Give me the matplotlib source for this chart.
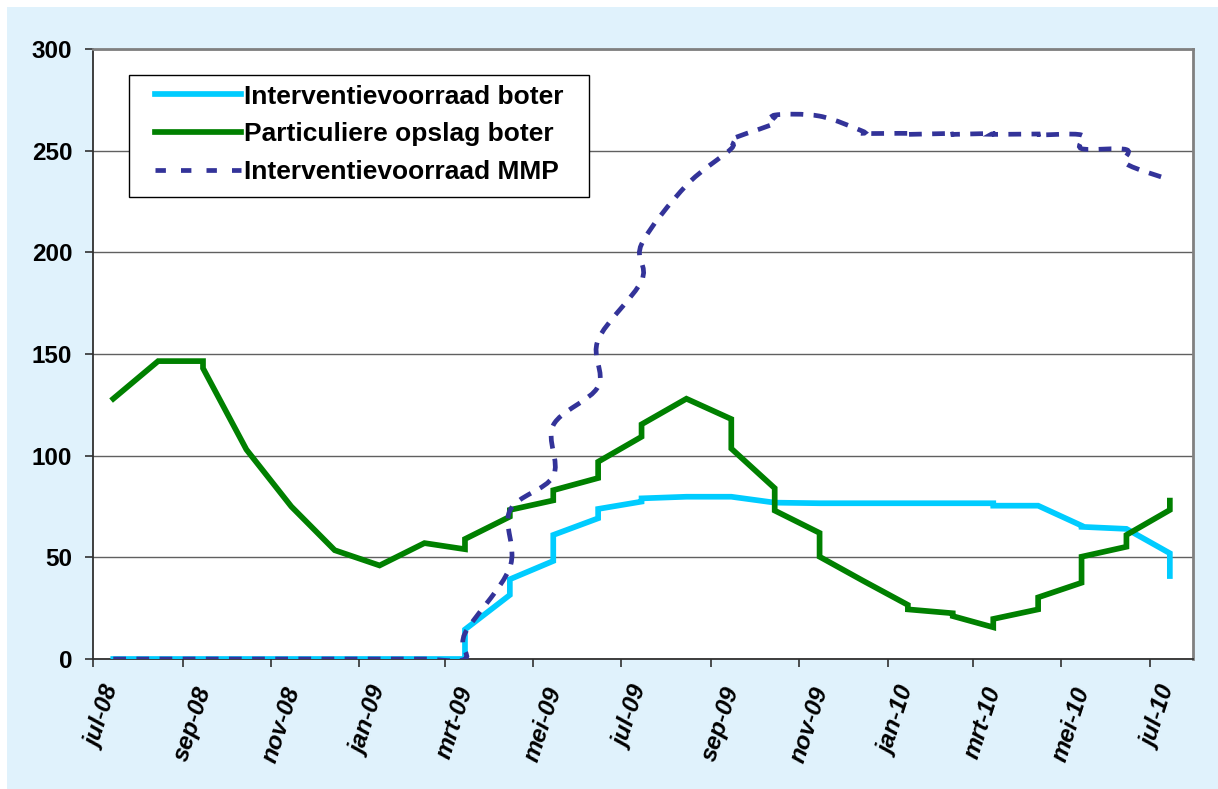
import matplotlib
matplotlib.use("Agg")
import matplotlib.pyplot as plt
import matplotlib.dates as mdates
import matplotlib.transforms as mtransforms
from matplotlib.path import Path
from matplotlib.patches import PathPatch, Rectangle
from matplotlib.lines import Line2D
import numpy as np
import pandas as pd

plt.rcParams['font.family'] = ['Liberation Sans', 'DejaVu Sans']

# ---------------- data ----------------
series_names = ["Interventievoorraad boter", "Particuliere opslag boter", "Interventievoorraad MMP"]

tick_dates = ["2008-07-01", "2008-09-01", "2008-11-01", "2009-01-01", "2009-03-01", "2009-05-01",
              "2009-07-01", "2009-09-01", "2009-11-01", "2010-01-01", "2010-03-01", "2010-05-01",
              "2010-07-01"]
tick_labels = ["jul-08", "sep-08", "nov-08", "jan-09", "mrt-09", "mei-09", "jul-09", "sep-09",
               "nov-09", "jan-10", "mrt-10", "mei-10", "jul-10"]

# Interventievoorraad boter
boter_dates = ["2008-07-15", "2008-08-15", "2008-09-15", "2008-10-15", "2008-11-15", "2008-12-15",
               "2009-01-15", "2009-02-15", "2009-03-15", "2009-03-15", "2009-04-15", "2009-04-15",
               "2009-05-15", "2009-05-15", "2009-06-15", "2009-06-15", "2009-07-15", "2009-07-15",
               "2009-08-15", "2009-09-15", "2009-10-15", "2009-11-15", "2009-12-15", "2010-01-15",
               "2010-02-15", "2010-03-15", "2010-03-15", "2010-04-15", "2010-05-15", "2010-05-15",
               "2010-06-15", "2010-07-15", "2010-07-15"]
boter_values = [0, 0, 0, 0, 0, 0,
                0, 0, 0, 14.5, 31.5, 39.2,
                48.2, 61, 69.2, 73.8, 77.4, 79,
                79.8, 79.8, 76.9, 76.6, 76.6, 76.6,
                76.6, 76.6, 75.4, 75.4, 65.6, 65.0,
                64.0, 52.0, 40.8]

# Particuliere opslag boter
opslag_dates = ["2008-07-15", "2008-08-15", "2008-09-15", "2008-09-15", "2008-10-15", "2008-11-15",
                "2008-12-15", "2009-01-15", "2009-02-15", "2009-03-15", "2009-03-15", "2009-04-15",
                "2009-04-15", "2009-05-15", "2009-05-15", "2009-06-15", "2009-06-15", "2009-07-15",
                "2009-07-15", "2009-08-15", "2009-09-15", "2009-09-15", "2009-10-15", "2009-10-15",
                "2009-11-15", "2009-11-15", "2009-12-15", "2010-01-15", "2010-01-15", "2010-02-15",
                "2010-02-15", "2010-03-15", "2010-03-15", "2010-04-15", "2010-04-15", "2010-05-15",
                "2010-05-15", "2010-06-15", "2010-06-15", "2010-07-15", "2010-07-15"]
opslag_values = [128, 146.5, 146.5, 143, 103, 75,
                 53.5, 46, 57, 54, 59, 70,
                 73.3, 78, 83, 89, 97, 109.3,
                 115.4, 128, 118, 103.5, 84, 73,
                 62, 50.3, 38.5, 26.6, 24.4, 22.5,
                 21.1, 15.6, 19.7, 24.4, 30.3, 37.5,
                 50.3, 55.2, 61, 73.3, 77.9]

# Interventievoorraad MMP
mmp_dates = ["2008-07-15", "2008-08-15", "2008-09-15", "2008-10-15", "2008-11-15", "2008-12-15",
             "2009-01-15", "2009-02-15", "2009-03-15", "2009-03-15", "2009-04-15", "2009-04-15",
             "2009-05-15", "2009-05-15", "2009-06-15", "2009-06-15", "2009-07-15", "2009-07-15",
             "2009-08-15", "2009-09-15", "2009-09-15", "2009-10-15", "2009-10-15", "2009-11-15",
             "2009-12-15", "2009-12-15", "2010-01-15", "2010-01-15", "2010-02-15", "2010-02-15",
             "2010-03-15", "2010-03-15", "2010-04-15", "2010-04-15", "2010-05-15", "2010-05-15",
             "2010-06-15", "2010-06-15", "2010-07-15"]
mmp_values = [0, 0, 0, 0, 0, 0,
              0, 0, 0, 12.6, 45, 73,
              90, 115, 134, 157, 186, 204,
              233, 251, 255.5, 263.5, 267.5, 267,
              259.5, 258.5, 258.5, 258, 258.5, 258,
              258.5, 258, 258.2, 257.7, 257.7, 251,
              250.5, 243.5, 235.7]

# ---------------- style ----------------
c_boter = "#00CCFF"
c_opslag = "#008000"
c_mmp = "#333399"
bg = "#E0F2FC"

fig = plt.figure(figsize=(12.18, 7.89), dpi=100)
fig.patch.set_facecolor("white")
fig.patches.append(Rectangle((7 / 1218, 0), 1, (789 - 7) / 789, transform=fig.transFigure,
                             facecolor=bg, edgecolor="none", zorder=-10))

ax = fig.add_axes([93 / 1218, 130 / 789, 1100 / 1218, 610 / 789])
ax.set_facecolor("white")

bd = pd.to_datetime(boter_dates)
od = pd.to_datetime(opslag_dates)
md = pd.to_datetime(mmp_dates)

lw = 4.1
ax.plot(bd, boter_values, color=c_boter, lw=lw, solid_joinstyle="miter", zorder=3)
ax.plot(od, opslag_values, color=c_opslag, lw=lw, solid_joinstyle="miter", zorder=4)


def smooth_path(x, y):
    pts = np.column_stack([x, y]).astype(float)
    n = len(pts)
    verts = [pts[0]]
    codes = [Path.MOVETO]
    for i in range(n - 1):
        p0 = pts[i - 1] if i > 0 else pts[i]
        p1 = pts[i]
        p2 = pts[i + 1]
        p3 = pts[i + 2] if i + 2 < n else pts[i + 1]
        verts += [p1 + (p2 - p0) / 6.0, p2 - (p3 - p1) / 6.0, p2]
        codes += [Path.CURVE4] * 3
    return Path(verts, codes)


mmp_x = mdates.date2num(md.to_pydatetime())
mmp_lw = 3.4
mmp_ls = (0, (2.7, 2.2))
patch = PathPatch(smooth_path(mmp_x, mmp_values), facecolor="none", edgecolor=c_mmp,
                  lw=mmp_lw, linestyle=mmp_ls, capstyle="butt", zorder=5)
ax.add_patch(patch)

ax.set_ylim(0, 300)
ax.set_xlim(pd.Timestamp("2008-07-01"), pd.Timestamp("2010-07-31"))
ax.set_yticks(np.arange(0, 301, 50))
ax.yaxis.grid(True, color="#606060", lw=1.0, zorder=1)
ax.set_axisbelow(True)

ax.set_xticks(pd.to_datetime(tick_dates))
ax.set_xticklabels(tick_labels, rotation=72, fontsize=17.5, fontweight="bold", fontstyle="italic")
for lab in ax.get_yticklabels():
    lab.set_fontsize(17.5)
    lab.set_fontweight("bold")
ax.tick_params(axis="both", direction="out", length=6, width=1.2, color="#303030")
ax.tick_params(axis="y", pad=9)
ax.tick_params(axis="x", pad=12)
offset = mtransforms.ScaledTranslation(10 / 100, 0, fig.dpi_scale_trans)
for lab in ax.get_xticklabels():
    lab.set_transform(lab.get_transform() + offset)

for s in ["top", "right"]:
    ax.spines[s].set_color("#808080")
    ax.spines[s].set_linewidth(2)
for s in ["left", "bottom"]:
    ax.spines[s].set_color("#303030")
    ax.spines[s].set_linewidth(1.3)

# legend
handles = [Line2D([], [], color=c_boter, lw=lw),
           Line2D([], [], color=c_opslag, lw=lw),
           Line2D([], [], color=c_mmp, lw=mmp_lw, linestyle=(0, (2.2, 3.2)), dash_capstyle="butt")]
leg = ax.legend(handles, series_names, loc="upper left",
                bbox_to_anchor=((155 - 93) / 1100, (659 - 84.5) / 610),
                frameon=False, borderpad=0, borderaxespad=0, handlelength=3.25,
                handletextpad=0.12, labelspacing=0.53,
                prop={"size": 19, "weight": "bold"})
ax.add_patch(Rectangle(((129 - 93) / 1100, (659 - 197) / 610), 460 / 1100, 122 / 610,
                       transform=ax.transAxes, facecolor="white", edgecolor="black",
                       lw=1.0, zorder=6))
leg.set_zorder(7)

fig.savefig("out.png", dpi=100, facecolor=fig.get_facecolor())
